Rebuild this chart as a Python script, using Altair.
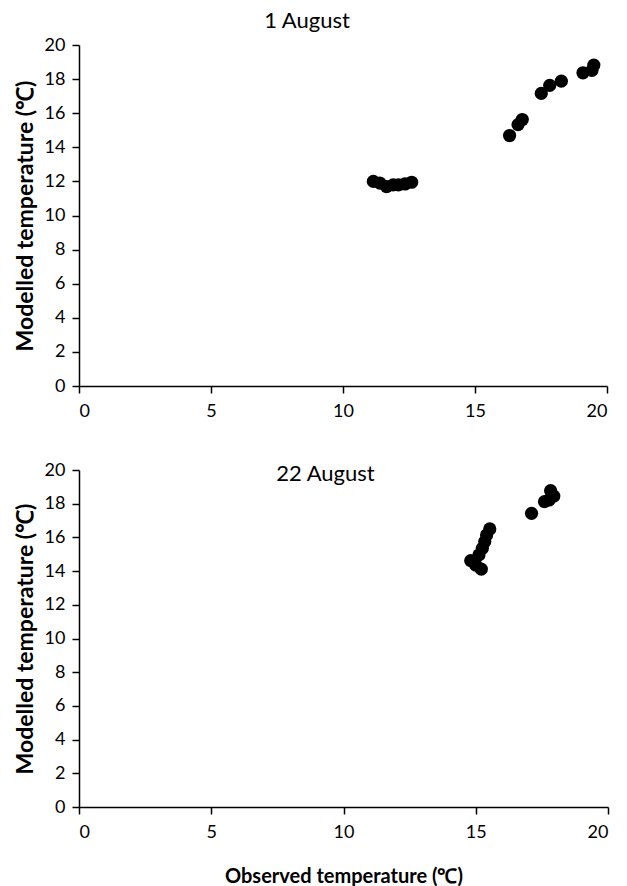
import altair as alt
import pandas as pd

# 1 August
top_obs = [11.15, 11.4, 11.65, 11.9, 12.1, 12.35, 12.6, 16.31, 16.63, 16.79, 17.51, 17.83, 18.27, 19.09, 19.43, 19.5]
top_mod = [12.0, 11.9, 11.7, 11.8, 11.8, 11.85, 11.95, 14.69, 15.33, 15.63, 17.16, 17.63, 17.88, 18.37, 18.51, 18.82]

# 22 August
bot_obs = [14.81, 15.0, 15.21, 15.12, 15.25, 15.34, 15.41, 15.53, 17.11, 17.6, 17.77, 17.83, 17.95]
bot_mod = [14.62, 14.36, 14.12, 14.96, 15.35, 15.75, 16.14, 16.5, 17.43, 18.12, 18.22, 18.77, 18.45]

x_ticks = [0, 5, 10, 15, 20]
y_ticks = [0, 2, 4, 6, 8, 10, 12, 14, 16, 18, 20]

y_title = "Modelled temperature (\u2103)"
x_title = "Observed temperature (\u2103)"

FONT = "Lato"


def panel(obs, mod, title, show_x_title, width, height, title_offset, title_dx):
    df = pd.DataFrame({"obs": obs, "mod": mod})
    x_axis = alt.Axis(values=x_ticks, grid=False, tickSize=7, labelPadding=9,
                      title=x_title if show_x_title else None,
                      titleFontSize=20, titleFontWeight="bold", titlePadding=25)
    y_axis = alt.Axis(values=y_ticks, grid=False, tickSize=7, labelPadding=7,
                      title=y_title, titleFontSize=23, titleFontWeight="bold",
                      titlePadding=7)
    return alt.Chart(df).mark_circle(size=175, color="black", opacity=1).encode(
        x=alt.X("obs:Q", scale=alt.Scale(domain=[0, 20], nice=False), axis=x_axis),
        y=alt.Y("mod:Q", scale=alt.Scale(domain=[0, 20], nice=False), axis=y_axis),
    ).properties(
        width=width, height=height,
        title=alt.TitleParams(text=title, fontSize=22, fontWeight="normal", font=FONT,
                              anchor="middle", frame="group", offset=title_offset,
                              dx=title_dx, color="black"),
    )


top = panel(top_obs, top_mod, "1 August", False, 528, 341, 3, -36)
bottom = panel(bot_obs, bot_mod, "22 August", True, 529, 337, -25, -18)

chart = alt.vconcat(top, bottom, spacing=41).properties(
    padding={"left": 14, "top": 10, "right": 5, "bottom": 5},
    background="white",
).configure_view(stroke=None).configure_axis(
    labelFont=FONT, titleFont=FONT, labelFontSize=18, labelColor="black",
    titleColor="black", domainColor="black", tickColor="black",
    domainWidth=1.5, tickWidth=1.5,
)

chart.save("out.html", embed_options={"renderer": "svg", "actions": False})
